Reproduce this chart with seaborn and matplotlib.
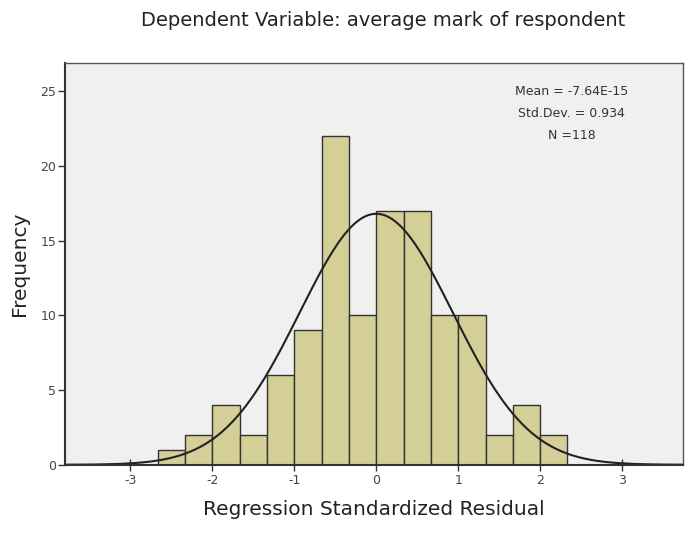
import numpy as np
import pandas as pd
import matplotlib.pyplot as plt
import seaborn as sns

# histogram of regression standardized residuals (bin width 1/3)
bin_start = -8 / 3
bin_width = 1 / 3
counts = [1, 2, 4, 2, 6, 9, 22, 10, 17, 17, 10, 10, 2, 4, 2]
res_mean = -7.64e-15
res_sd = 0.934
n_obs = 118

sns.set_theme(style="white")
plt.rcParams["font.family"] = ["DejaVu Sans"]
plt.rcParams["axes.unicode_minus"] = False

centers = bin_start + bin_width * (np.arange(len(counts)) + 0.5)
df = pd.DataFrame({"resid": centers, "count": counts})

fig = plt.figure(figsize=(6.89, 5.33), dpi=100)
ax = fig.add_axes([0.094, 0.128, 0.897, 0.754])
ax.set_facecolor("#f0f0f0")

sns.histplot(data=df, x="resid", weights="count", binwidth=bin_width,
             binrange=(bin_start, bin_start + bin_width * len(counts)), ax=ax,
             color="#d4cf97", edgecolor="#333333", linewidth=1.0, alpha=1)

# normal curve scaled to the histogram
xs = np.linspace(-3.8, 3.75, 400)
ys = n_obs * bin_width / (res_sd * np.sqrt(2 * np.pi)) * np.exp(-0.5 * ((xs - res_mean) / res_sd) ** 2)
sns.lineplot(x=xs, y=ys, ax=ax, color="#222222", linewidth=1.5)

ax.set_xlim(-3.8, 3.74)
ax.set_ylim(0, 26.9)
ax.set_xticks([-3, -2, -1, 0, 1, 2, 3])
ax.set_yticks([0, 5, 10, 15, 20, 25])
ax.tick_params(axis="x", direction="inout", length=8, width=1, color="#333333",
               labelsize=9, pad=3, labelcolor="#444444", bottom=True)
ax.tick_params(axis="y", direction="out", length=5, width=1, color="#333333",
               labelsize=9, pad=1, labelcolor="#444444", left=True)
for s in ax.spines.values():
    s.set_color("#555555")
    s.set_linewidth(1.0)
for side in ["bottom", "left"]:
    ax.spines[side].set_color("#333333")
    ax.spines[side].set_linewidth(1.5)

ax.set_xlabel("Regression Standardized Residual", fontsize=14.5, color="#222222", labelpad=9)
ax.set_ylabel("Frequency", fontsize=14.5, color="#222222", labelpad=8)
fig.text(0.556, 0.962, "Dependent Variable: average mark of respondent",
         ha="center", va="center", fontsize=14, color="#222222")

ax.text(0.82, 0.93, f"Mean = {res_mean:.2E}", transform=ax.transAxes,
        ha="center", va="center", fontsize=9, color="#333333")
ax.text(0.82, 0.875, f"Std.Dev. = {res_sd:.3f}", transform=ax.transAxes,
        ha="center", va="center", fontsize=9, color="#333333")
ax.text(0.82, 0.82, f"N ={n_obs}", transform=ax.transAxes,
        ha="center", va="center", fontsize=9, color="#333333")

fig.savefig("out.png", dpi=100)
